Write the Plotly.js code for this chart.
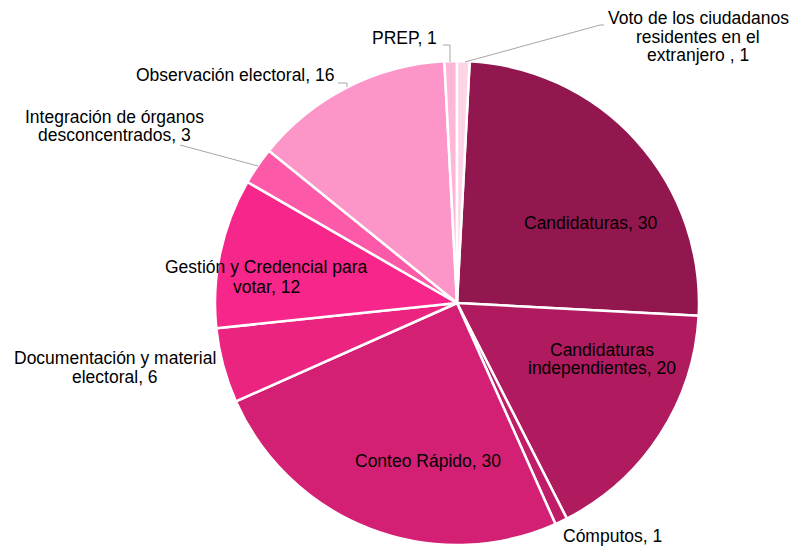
<!DOCTYPE html>
<html>
<head>
<meta charset="utf-8">
<script src="https://cdn.plot.ly/plotly-3.0.1.min.js"></script>
<style>html,body{margin:0;padding:0;background:#fff;}#chart{width:796px;height:548px;}</style>
</head>
<body>
<div id="chart"></div>
<script>
const categories = [
  "Candidaturas",
  "Candidaturas independientes",
  "Cómputos",
  "Conteo Rápido",
  "Documentación y material electoral",
  "Gestión y Credencial para votar",
  "Integración de órganos desconcentrados",
  "Observación electoral",
  "PREP",
  "Voto de los ciudadanos residentes en el extranjero "
];
const values = [30, 20, 1, 30, 6, 12, 3, 16, 1, 1];
const colors = ["#93174f", "#b01a5e", "#c01c67", "#d42074", "#ea2480", "#f7268a", "#fc5aa8", "#fc96c8", "#fdb6d8", "#fdd5e6"];

// label lines (text split into lines) with positions in pixels
const labelLines = [
  {i: 0, lines: ["Candidaturas, 30"], x: 591, y: [223]},
  {i: 1, lines: ["Candidaturas", "independientes, 20"], x: 602, y: [350, 368]},
  {i: 2, lines: ["Cómputos, 1"], x: 612, y: [536]},
  {i: 3, lines: ["Conteo Rápido, 30"], x: 428, y: [461]},
  {i: 4, lines: ["Documentación y material", "electoral, 6"], x: 115, y: [358, 377]},
  {i: 5, lines: ["Gestión y Credencial para", "votar, 12"], x: 266, y: [267, 287]},
  {i: 6, lines: ["Integración de órganos", "desconcentrados, 3"], x: 114, y: [117, 135]},
  {i: 7, lines: ["Observación electoral, 16"], x: 235, y: [75]},
  {i: 8, lines: ["PREP, 1"], x: 405, y: [38]},
  {i: 9, lines: ["Voto de los ciudadanos", "residentes en el", "extranjero , 1"], x: 698, y: [18, 37, 55]}
];
const leaders = [
  [[443,45],[450,45],[450,62]],
  [[604,25],[600,25],[465,62]],
  [[338,83],[347,83],[347,87]],
  [[180,145],[258,166]]
];

const W = 796, H = 548;
const px = x => x / W, py = y => 1 - y / H;

const annotations = [];
labelLines.forEach(l => {
  l.lines.forEach((t, k) => {
    annotations.push({
      text: t, xref: 'paper', yref: 'paper', x: px(l.x), y: py(l.y[k]),
      xanchor: 'center', yanchor: 'middle', showarrow: false,
      font: {family: 'Liberation Sans, Arial, sans-serif', size: 17.5, color: '#000'}
    });
  });
});
const shapes = [];
leaders.forEach(seg => {
  for (let k = 0; k < seg.length - 1; k++) {
    shapes.push({type: 'line', xref: 'paper', yref: 'paper',
      x0: px(seg[k][0]), y0: py(seg[k][1]), x1: px(seg[k+1][0]), y1: py(seg[k+1][1]),
      line: {color: '#a6a6a6', width: 1}});
  }
});

const cx = 457, cy = 303, r = 242;
const trace = {
  type: 'pie',
  labels: categories,
  values: values,
  sort: false,
  direction: 'clockwise',
  rotation: 3,
  marker: {colors: colors, line: {color: '#ffffff', width: 2.5}},
  textinfo: 'none',
  hoverinfo: 'label+value',
  showlegend: false,
  domain: {x: [px(cx - r), px(cx + r)], y: [py(cy + r), py(cy - r)]}
};

Plotly.newPlot('chart', [trace], {
  width: W, height: H,
  margin: {l: 0, r: 0, t: 0, b: 0},
  paper_bgcolor: '#fff',
  showlegend: false,
  annotations: annotations,
  shapes: shapes
}, {displayModeBar: false, staticPlot: true});
</script>
</body>
</html>
